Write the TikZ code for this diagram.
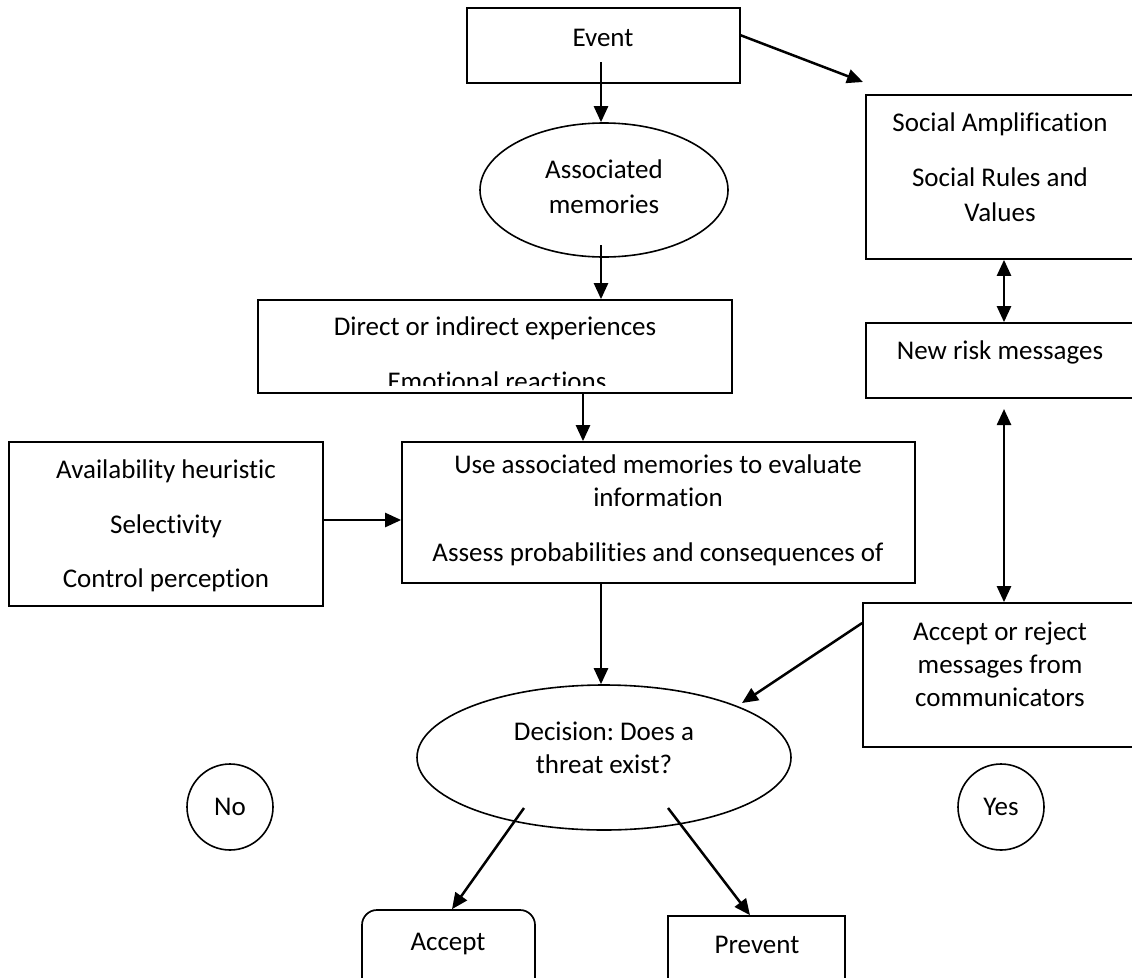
\documentclass[tikz,border=0pt]{standalone}
\usepackage{fontspec}
\setmainfont{Carlito}[Ligatures=NoCommon]
\frenchspacing
\usetikzlibrary{arrows.meta,shapes.geometric,calc}
\begin{document}
\begin{tikzpicture}[x=1pt,y=-1pt,
  box/.style={draw=black,line width=1.7pt,inner sep=0pt,rectangle},
  oval/.style={draw=black,line width=1.6pt,ellipse,inner sep=0pt},
  txt/.style={anchor=base,align=center,inner sep=0pt,font=\fontsize{27}{33}\selectfont\frenchspacing},
  arr/.style={-{Triangle[length=16pt,width=14pt]},line width=2.5pt},
  darr/.style={{Triangle[length=16pt,width=14pt]}-{Triangle[length=16pt,width=14pt]},line width=2.5pt}]
\useasboundingbox (0,0) rectangle (1132,977);
\clip (0,0) rectangle (1132,977);
\fill[white] (0,0) rectangle (1132,977);

% boxes and shapes
\node[box,minimum width=273pt,minimum height=75pt] (event) at (603.5,45.5) {};
\node[oval,minimum width=248pt,minimum height=134pt] (assoc) at (604,190) {};
\node[box,minimum width=474pt,minimum height=93pt] (direct) at (495,346.5) {};
\node[box,minimum width=314pt,minimum height=164pt] (avail) at (166,524) {};
\node[box,minimum width=513pt,minimum height=141pt] (use) at (658.5,512.5) {};
\node[box,minimum width=274pt,minimum height=164pt] (social) at (1003,177) {};
\node[box,minimum width=274pt,minimum height=75pt] (newrisk) at (1003,360.5) {};
\node[box,minimum width=277pt,minimum height=144pt] (accrej) at (1001.5,675) {};
\node[oval,minimum width=374pt,minimum height=145pt] (dec) at (604,757.5) {};
\node[draw=black,line width=1.6pt,circle,minimum size=86pt,inner sep=0pt] (no) at (230,807) {};
\node[draw=black,line width=1.6pt,circle,minimum size=86pt,inner sep=0pt] (yes) at (1001,807) {};
\node[box,rounded corners=15pt,minimum width=173pt,minimum height=90pt] (accept) at (448.5,955) {};
\node[box,minimum width=177pt,minimum height=84pt] (prevent) at (756.5,958) {};

% texts (anchor base = baseline of the last line)
\node[txt] (eventT) at (603,46) {Event};
\node[txt] (assocT) at (604,213) {Associated\\[2pt]memories};
\node[txt] (directT) at (495,335) {Direct or indirect experiences};
\begin{scope}
\clip (258,300) rectangle (732,385);
\node[txt] (emoT) at (497,390) {Emotional reactions};
\end{scope}
\node[txt] (availT) at (166,587) {Availability heuristic\\[22pt]Selectivity\\[21pt]Control perception};
\node[txt] (useT) at (658,561) {Use associated memories to evaluate\\information\\[22pt]Assess probabilities and consequences of};
\node[txt] (socialT) at (1000,221) {Social Amplification\\[22pt]Social Rules and\\[2pt]Values};
\node[txt] (newT) at (1000,359) {New risk messages};
\node[txt] (accrejT) at (1000,706) {Accept or reject\\messages from\\communicators};
\node[txt] (decT) at (604,773) {Decision: Does a\\threat exist?};
\node[txt] (noT) at (230,815) {No};
\node[txt] (yesT) at (1001,815) {Yes};
\node[txt] (acceptT) at (448,950) {Accept};
\node[txt] (preventT) at (757,953) {Prevent};

% connector end points
\coordinate (evIn) at (601,62);
\coordinate (evR) at (740,35);
\coordinate (socTip) at (863,82);
\coordinate (asIn) at (601,245);
\coordinate (dOut) at (583,0);
\coordinate (hA) at (0,520);
\coordinate (hB) at (0,623);
\coordinate (decR) at (742,703);
\coordinate (rx) at (1004,0);
\coordinate (nb) at (1004,409);
\coordinate (dL) at (524,808);
\coordinate (dR) at (668,808);
\coordinate (aT) at (452,0);
\coordinate (pT) at (750,0);

% connectors
\draw[arr] (evIn) -- (assoc.north -| evIn);
\draw[arr] (evR) -- (socTip);
\draw[arr] (asIn) -- (direct.north -| asIn);
\draw[arr] (direct.south -| dOut) -- (use.north -| dOut);
\draw[arr] (avail.east |- hA) -- (use.west |- hA);
\draw[arr] (use.south -| asIn) -- (dec.north -| asIn);
\draw[arr] (accrej.west |- hB) -- (decR);
\draw[darr] (social.south -| rx) -- (newrisk.north -| rx);
\draw[darr] (nb) -- (accrej.north -| nb);
\draw[arr] (dL) -- (accept.north -| aT);
\draw[arr] (dR) -- (prevent.north -| pT);
\end{tikzpicture}
\end{document}
